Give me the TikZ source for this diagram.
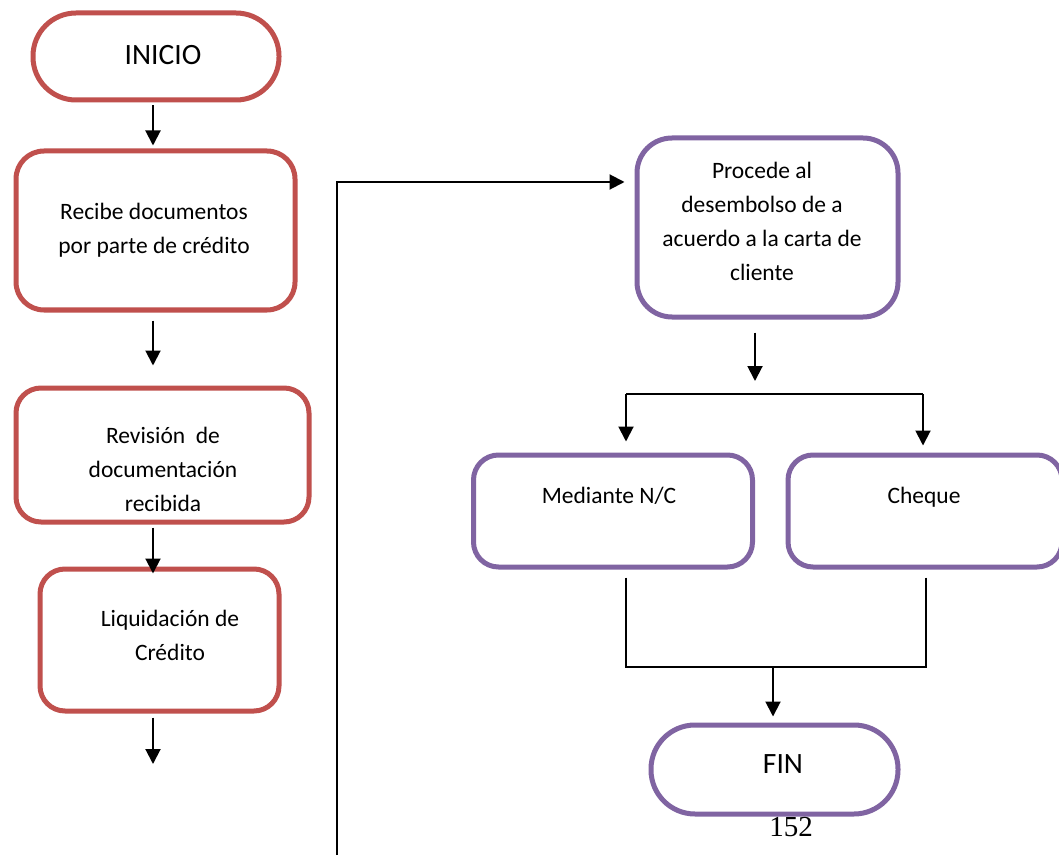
\documentclass[tikz,border=0pt]{standalone}
\usepackage{fontspec}
\setmainfont{Carlito}
\newfontfamily\numfont{Liberation Serif}
\usetikzlibrary{arrows.meta}
\definecolor{flowred}{HTML}{C0504D}
\definecolor{flowpurple}{HTML}{8064A2}

\begin{document}
\begin{tikzpicture}[x=1pt,y=-1pt,
  redbox/.style={draw=flowred, line width=5pt, fill=white, inner sep=0pt},
  purplebox/.style={draw=flowpurple, line width=5pt, fill=white, inner sep=0pt},
  label/.style={font=\fontsize{23.5}{34}\selectfont, align=center, inner sep=0pt},
  term/.style={font=\fontsize{29.5}{30}\selectfont, inner sep=0pt},
  conn/.style={line width=2pt, -{Triangle[width=15pt,length=15pt]}},
  plain/.style={line width=1.7pt}]

% page area
\clip (0,0) rectangle (1059,858);
\fill[white] (0,0) rectangle (1059,858);

% left column
\node[redbox, minimum width=246pt, minimum height=87pt, rounded corners=43pt] (inicio) at (156,56.5) {};
\node[term] (inicioT) at (163,55) {INICIO};

\node[redbox, minimum width=279pt, minimum height=159pt, rounded corners=28pt] (recibe) at (155.5,230.5) {};
\node[label] (recibeT) at (154,230) {Recibe documentos\\por parte de crédito};

\node[redbox, minimum width=293pt, minimum height=134pt, rounded corners=25pt] (revision) at (162.5,455) {};
\node[label] (revisionT) at (163,469) {Revisión~ de\\documentación\\recibida};

\node[redbox, minimum width=239pt, minimum height=142pt, rounded corners=25pt] (liquid) at (159.5,640) {};
\node[label] (liquidT) at (170,635) {Liquidación de\\Crédito};

% right column
\node[purplebox, minimum width=261pt, minimum height=179pt, rounded corners=35pt] (procede) at (767.5,227.5) {};
\node[label] (procedeT) at (762,221) {Procede al\\desembolso de a\\acuerdo a la carta de\\cliente};

\node[purplebox, minimum width=279pt, minimum height=112pt, rounded corners=25pt] (mediante) at (613,511) {};
\node[label, anchor=base] (medianteT) at (609,503) {Mediante N/C};

\node[purplebox, minimum width=274pt, minimum height=112pt, rounded corners=25pt] (cheque) at (925,511) {};
\node[label, anchor=base] (chequeT) at (924,503) {Cheque};

\node[purplebox, minimum width=247pt, minimum height=89pt, rounded corners=44pt] (fin) at (774.5,769.5) {};
\node[term] (finT) at (783,764) {FIN};

\node[font=\numfont\fontsize{29}{29}\selectfont, inner sep=0pt] (pagenum) at (791,827) {152};

% connector guides
\coordinate (colL) at (153,0);
\coordinate (endL) at (153,764);
\coordinate (jump) at (337,855);
\coordinate (entryrow) at (0,182);
\coordinate (colP) at (755,0);
\coordinate (splitEnd) at (755,381);
\coordinate (brL) at (626,394);
\coordinate (brR) at (923,394);
\coordinate (colR) at (926,0);
\coordinate (merge) at (773,667);

% left column connectors
\draw[conn, shorten <=3pt, shorten >=3pt] (inicio.south -| colL) -- (recibe.north -| colL);
\draw[conn, shorten <=8pt, shorten >=20pt] (recibe.south -| colL) -- (revision.north -| colL);
\draw[conn, shorten <=3pt, shorten >=-7pt] (revision.south -| colL) -- (liquid.north -| colL);
\draw[conn, shorten <=4pt] (liquid.south -| colL) -- (endL);

% long link into the disbursement step
\draw[conn, shorten >=10pt] (jump) |- (procede.west |- entryrow);

% split into the two payment modes
\draw[conn, shorten <=13pt] (procede.south -| colP) -- (splitEnd);
\draw[plain] (brL) -- (brR);
\draw[conn, shorten >=11pt] (brL) -- (mediante.north -| brL);
\draw[conn, shorten >=7pt] (brR) -- (cheque.north -| brR);

% merge towards the end
\draw[plain, shorten <=8pt] (mediante.south -| brL) |- (merge);
\draw[plain, shorten <=8pt] (cheque.south -| colR) |- (merge);
\draw[conn, shorten >=6pt] (merge) -- (fin.north -| merge);
\end{tikzpicture}
\end{document}
